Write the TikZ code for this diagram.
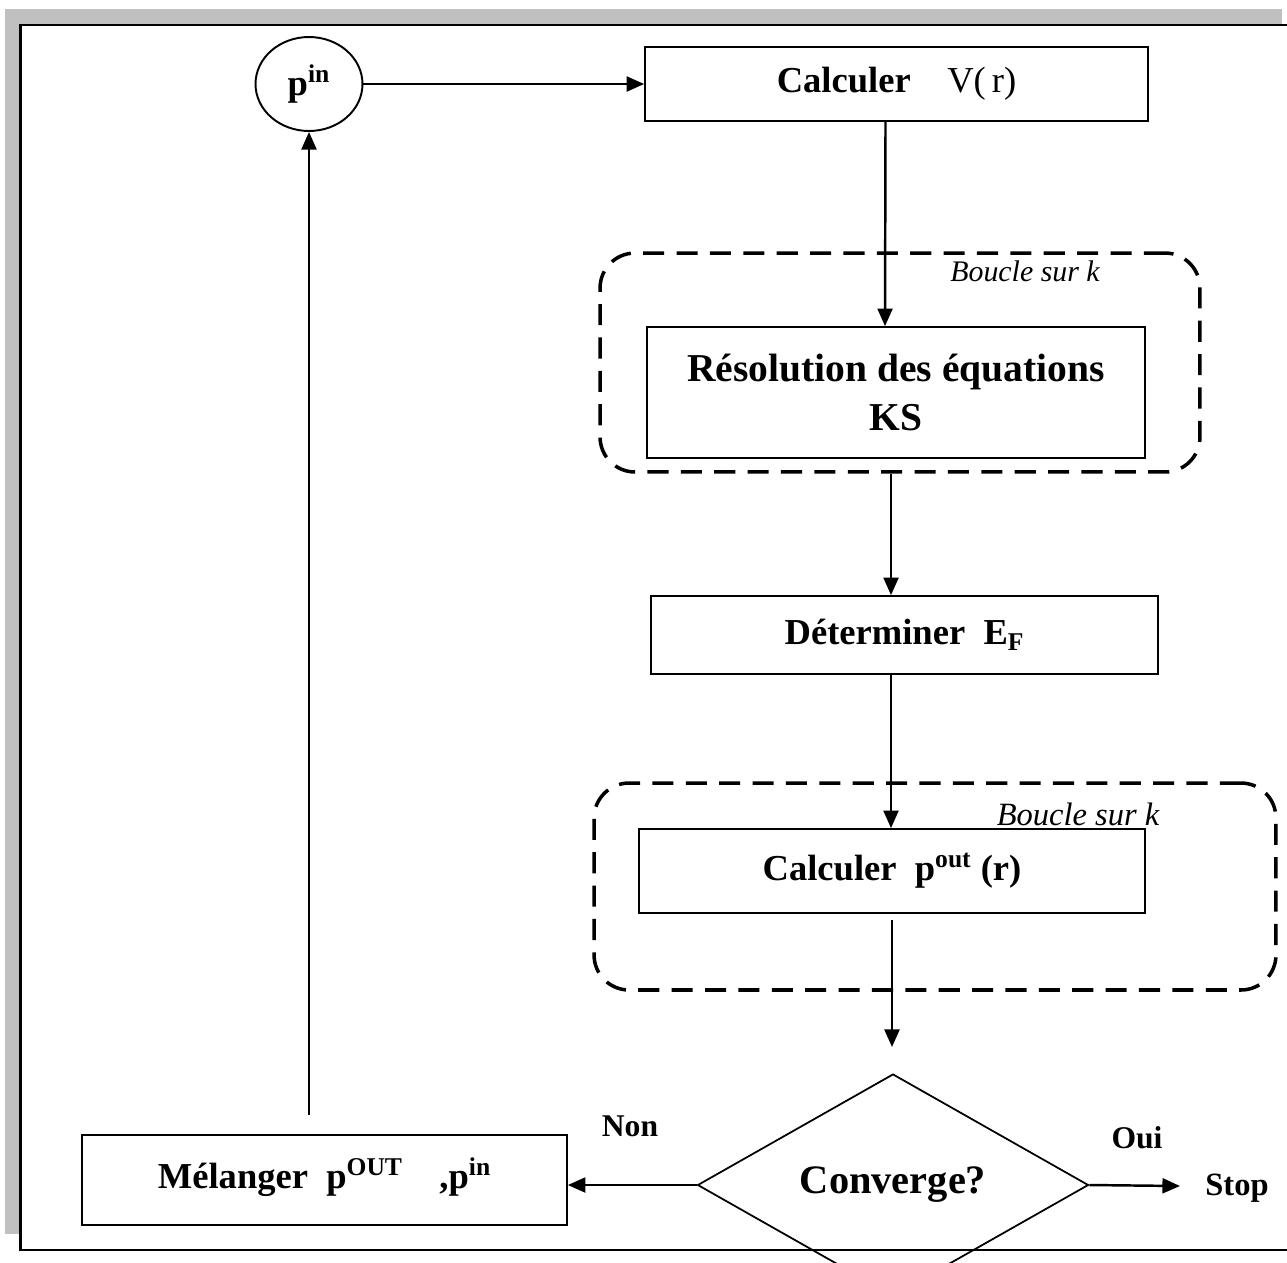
\documentclass[tikz,border=0pt]{standalone}
\usepackage{fontspec}
\setmainfont{Liberation Serif}
\usepackage{tikz}
\usetikzlibrary{arrows.meta, shapes.geometric}

\definecolor{shadowgray}{RGB}{192,192,192}

\begin{document}
\begin{tikzpicture}[x=0.02cm, y=-0.02cm,
	box/.style={draw, line width=1pt, rectangle, inner sep=0pt},
	txt/.style={font=\fontsize{20.8}{28}\selectfont\bfseries},
	loopbox/.style={draw, line width=2pt, rounded corners=0.7cm, dash pattern=on 12pt off 7pt, inner sep=0pt},
	looplabel/.style={font=\fontsize{17}{20}\selectfont\itshape},
	flowline/.style={line width=1.4pt, -{Triangle[length=10pt,width=8.5pt]}}]

	\useasboundingbox (0,0) rectangle (1287,1262);
	\clip (0,0) rectangle (1287,1262);

	\fill[shadowgray] (5,9) rectangle (1282,1234);
	\filldraw[fill=white, draw=black, line width=1.2pt] (20.5,25) rectangle (1320,1250);

	\node[loopbox, minimum width=12cm, minimum height=4.38cm] (loopA) at (900,362.5) {};
	\node[loopbox, minimum width=13.64cm, minimum height=4.14cm] (loopB) at (935,886.5) {};
	\node[looplabel] (kA) at (1025,271) {Boucle sur k};
	\node[looplabel, font=\fontsize{18.5}{20}\selectfont\itshape] (kB) at (1078,814) {Boucle sur k};

	\node[box, txt, ellipse, line width=1.1pt, minimum width=2.14cm, minimum height=1.88cm] (pin) at (309,84) {p\textsuperscript{in}};
	\node[box, txt, minimum width=10.06cm, minimum height=1.48cm] (calcV) at (896.5,84) {Calculer\quad\textmd{V(\,r)}};
	\node[box, txt, font=\fontsize{22.5}{28}\selectfont\bfseries, align=center, minimum width=9.96cm, minimum height=2.62cm] (resol) at (896,392.5) {Résolution des équations\\KS};
	\node[box, txt, minimum width=10.14cm, minimum height=1.56cm] (determ) at (904.5,635) {Déterminer\enspace E\textsubscript{F}};
	\node[box, txt, minimum width=10.12cm, minimum height=1.68cm] (calcp) at (892,871) {Calculer\enspace p\textsuperscript{out} (r)};
	\node[draw, diamond, line width=1pt, inner sep=0pt, minimum width=7.82cm, minimum height=3.32cm, txt, font=\fontsize{23}{28}\selectfont\bfseries] (conv) at (893,1185) {Converge?};
	\node[box, txt, minimum width=9.7cm, minimum height=1.8cm] (melange) at (324.5,1180) {\raisebox{8pt}{Mélanger\enspace p\textsuperscript{OUT}\quad ,p\textsuperscript{in}}};

	\node[txt, font=\fontsize{18}{20}\selectfont\bfseries] (oui) at (1137,1138) {Oui};
	\node[txt, font=\fontsize{18}{20}\selectfont\bfseries] (non) at (630,1126) {Non};
	\node[txt, font=\fontsize{18.5}{20}\selectfont\bfseries] (stop) at (1237,1188) {Stop};

	\coordinate (top) at (309,1115);
	\coordinate (cin) at (892,1047);
	\coordinate (yes) at (1180,1186);

	\draw[flowline] (pin) -- (calcV);
	\draw[flowline] ([xshift=-0.22cm]calcV.south) -- ([xshift=-0.22cm]resol.north);
	\draw[flowline] (loopA.south -| 891,0) -- (determ.north -| 891,0);
	\draw[flowline] (determ.south -| 891,0) -- (calcp.north -| 891,0);
	\draw[flowline] ([yshift=-0.12cm]calcp.south) -- (cin);
	\draw[flowline] (conv.east) -- (yes);
	\draw[flowline] (conv.west) -- (conv.west -| melange.east);
	\draw[flowline] (top) -- (pin.south);
\end{tikzpicture}
\end{document}
